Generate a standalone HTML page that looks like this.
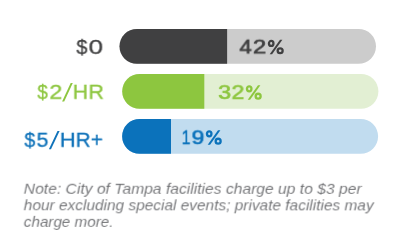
<!DOCTYPE html>
<html><head><meta charset="utf-8">
<style>
html,body{margin:0;padding:0;background:#fff;}
body{width:400px;height:247px;position:relative;overflow:hidden;font-family:"Liberation Sans",sans-serif;}
svg{position:absolute;left:0;top:0;}
.g{position:absolute;left:0;top:0;white-space:nowrap;transform-origin:0 0;will-change:transform;font-size:20px;line-height:20px;}
.reg{font-weight:normal;-webkit-text-stroke:0.3px currentColor;}
.med{font-weight:normal;-webkit-text-stroke:0.65px currentColor;}
.bold{font-weight:bold;-webkit-text-stroke:0px currentColor;}
.note{position:absolute;left:0;top:0;font-size:14.06px;line-height:14.06px;font-style:italic;color:#6d6e71;white-space:nowrap;transform-origin:0 0;will-change:transform;-webkit-text-stroke:0.08px #fff;}
</style></head><body>
<svg width="400" height="247" viewBox="0 0 400 247"><path d="M136.95,28.90 H358.55 A17.45,17.45 0 0 1 358.55,63.80 H136.95 A17.45,17.45 0 0 1 136.95,28.90 Z" fill="#cccccc"/><path d="M136.95,28.90 H227.10 V63.80 H136.95 A17.45,17.45 0 0 1 136.95,28.90 Z" fill="#404041"/><path d="M139.65,73.90 H360.95 A17.45,17.45 0 0 1 360.95,108.80 H139.65 A17.45,17.45 0 0 1 139.65,73.90 Z" fill="#e2efd3"/><path d="M139.65,73.90 H204.30 V108.80 H139.65 A17.45,17.45 0 0 1 139.65,73.90 Z" fill="#8dc63f"/><path d="M139.55,118.90 H360.65 A17.45,17.45 0 0 1 360.65,153.80 H139.55 A17.45,17.45 0 0 1 139.55,118.90 Z" fill="#c1dcef"/><path d="M139.55,118.90 H171.00 V153.80 H139.55 A17.45,17.45 0 0 1 139.55,118.90 Z" fill="#0b72bb"/></svg>
<span class="g reg" style="transform:translate(76.41px,37.02px) rotate(0.02deg) scale(0.993,0.990);color:#404041">&#36;</span>
<span class="g reg" style="transform:translate(88.65px,37.02px) rotate(0.02deg) scale(1.298,0.990);color:#404041">0</span>
<span class="g reg" style="transform:translate(37.41px,81.95px) rotate(0.02deg) scale(0.935,0.990);color:#8dc63f">&#36;</span>
<span class="g reg" style="transform:translate(49.34px,81.95px) rotate(0.02deg) scale(1.170,0.990);color:#8dc63f">2</span>
<span class="g reg" style="transform:translate(72.82px,81.95px) rotate(0.02deg) scale(1.053,0.990);color:#8dc63f">H</span>
<span class="g reg" style="transform:translate(88.50px,81.95px) rotate(0.02deg) scale(1.068,0.990);color:#8dc63f">R</span>
<span class="g reg" style="transform:translate(24.41px,129.95px) rotate(0.02deg) scale(0.981,0.990);color:#0f72b9">&#36;</span>
<span class="g reg" style="transform:translate(36.61px,129.95px) rotate(0.02deg) scale(1.072,0.990);color:#0f72b9">5</span>
<span class="g reg" style="transform:translate(59.87px,129.95px) rotate(0.02deg) scale(1.091,0.990);color:#0f72b9">H</span>
<span class="g reg" style="transform:translate(75.75px,129.95px) rotate(0.02deg) scale(1.024,0.990);color:#0f72b9">R</span>
<span class="g reg" style="transform:translate(90.80px,129.95px) rotate(0.02deg) scale(1.044,0.990);color:#0f72b9">+</span>
<span class="g med" style="transform:translate(239.60px,36.77px) rotate(0.02deg) scale(1.118,0.980);color:#404041">4</span>
<span class="g med" style="transform:translate(252.92px,36.77px) rotate(0.02deg) scale(1.196,0.980);color:#404041">2</span>
<span class="g med" style="transform:translate(218.05px,82.28px) rotate(0.02deg) scale(1.164,0.980);color:#8dc63f">3</span>
<span class="g med" style="transform:translate(231.55px,82.28px) rotate(0.02deg) scale(1.150,0.980);color:#8dc63f">2</span>
<span class="g med" style="transform:translate(181.81px,127.47px) rotate(0.02deg) scale(0.772,0.980);color:#0b72bb">1</span>
<span class="g med" style="transform:translate(191.55px,127.47px) rotate(0.02deg) scale(1.143,0.980);color:#0b72bb">9</span>
<svg width="400" height="247"><polygon points="62.1,101.5 64.2,101.5 72.8,82.9 70.7,82.9" fill="#8dc63f"/><polygon points="48.9,149.2 51.0,149.2 59.6,130.9 57.5,130.9" fill="#0f72b9"/></svg>
<svg width="400" height="247"><g transform="translate(267.8,39.8)" fill="none" stroke="#404041" stroke-width="2.3"><ellipse cx="3.4" cy="3.65" rx="2.25" ry="2.5"/><ellipse cx="12.35" cy="10.95" rx="2.5" ry="2.4"/><polygon points="1.9,14.5 4.3,14.5 14.6,0 12.2,0" fill="#404041" stroke="none"/></g><g transform="translate(245.8,85.2)" fill="none" stroke="#8dc63f" stroke-width="2.3"><ellipse cx="3.4" cy="3.65" rx="2.25" ry="2.5"/><ellipse cx="12.35" cy="10.95" rx="2.5" ry="2.4"/><polygon points="1.9,14.5 4.3,14.5 14.6,0 12.2,0" fill="#8dc63f" stroke="none"/></g><g transform="translate(205.8,130.2)" fill="none" stroke="#0b72bb" stroke-width="2.3"><ellipse cx="3.4" cy="3.65" rx="2.25" ry="2.5"/><ellipse cx="12.35" cy="10.95" rx="2.5" ry="2.4"/><polygon points="1.9,14.5 4.3,14.5 14.6,0 12.2,0" fill="#0b72bb" stroke="none"/></g></svg>
<div class="note" style="transform:translate(23.8px,181.75px) rotate(0.02deg) scale(1.114,1.0)">Note: City of Tampa facilities charge up to $3 per</div>
<div class="note" style="transform:translate(23.8px,198.25px) rotate(0.02deg) scale(1.098,1.0)">hour excluding special events; private facilities may</div>
<div class="note" style="transform:translate(23.8px,214.85px) rotate(0.02deg) scale(1.082,1.0)">charge more.</div>
</body></html>
